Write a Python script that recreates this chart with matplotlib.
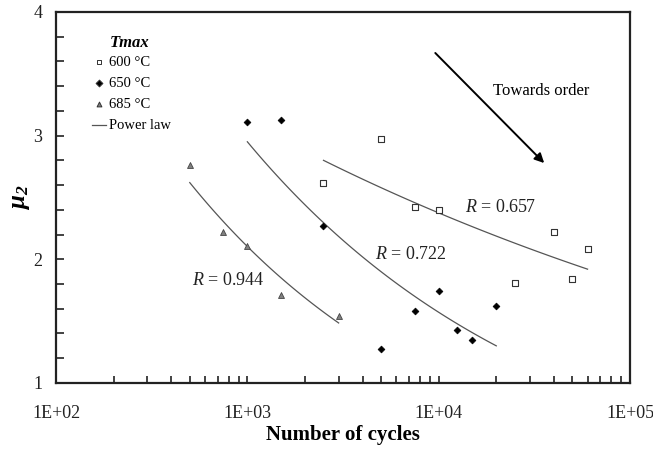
import numpy as np
import matplotlib
matplotlib.use('Agg')
import matplotlib.pyplot as plt
from matplotlib.ticker import LogLocator, FixedLocator, NullFormatter

plt.rcParams['font.family'] = ['Liberation Serif', 'DejaVu Serif']
plt.rcParams['mathtext.fontset'] = 'custom'
plt.rcParams['mathtext.rm'] = 'Liberation Serif'
plt.rcParams['mathtext.it'] = 'Liberation Serif:italic'
plt.rcParams['mathtext.bf'] = 'Liberation Serif:bold:italic'

# 600 °C
cycles_600 = [2500, 5000, 7500, 10000, 25000, 40000, 50000, 60000]
mu2_600 = [2.62, 2.97, 2.42, 2.40, 1.81, 2.22, 1.84, 2.08]
# 650 °C
cycles_650 = [1000, 1500, 2500, 5000, 7500, 10000, 12500, 15000, 20000]
mu2_650 = [3.11, 3.13, 2.27, 1.275, 1.58, 1.74, 1.43, 1.35, 1.62]
# 685 °C
cycles_685 = [500, 750, 1000, 1500, 3000]
mu2_685 = [2.76, 2.22, 2.11, 1.71, 1.54]

# power-law trendlines: end points (x, mu2)
fit_600 = ([2500, 60000], [2.80, 1.92])
fit_650 = ([1000, 20000], [2.95, 1.30])
fit_685 = ([500, 3000], [2.62, 1.485])

r_labels = ['$R$ = 0.657', '$R$ = 0.722', '$R$ = 0.944']


def power_curve(xs, ys, n=60):
    # straight line in log-log space between the two read-off end points
    lx = np.log10(xs)
    ly = np.log10(ys)
    t = np.linspace(lx[0], lx[1], n)
    return 10 ** t, 10 ** np.interp(t, lx, ly)


fig = plt.figure(figsize=(6.53, 4.5), dpi=100)
ax = fig.add_axes([0.0858, 0.149, 0.879, 0.8245])

for fx, fy in (fit_600, fit_650, fit_685):
    cx, cy = power_curve(fx, fy)
    ax.plot(cx, cy, color='#555555', linewidth=0.9, zorder=2)

ax.scatter(cycles_600, mu2_600, marker='s', s=14, facecolor='white',
           edgecolor='#333333', linewidth=0.8, zorder=3)
ax.scatter(cycles_650, mu2_650, marker='D', s=12, facecolor='black',
           edgecolor='black', linewidth=0.5, zorder=3)
ax.scatter(cycles_685, mu2_685, marker='^', s=18, facecolor='#808080',
           edgecolor='#444444', linewidth=0.6, zorder=3)

ax.set_xscale('log')
ax.set_xlim(1e2, 1e5)
ax.set_ylim(1, 4)

ax.xaxis.set_minor_locator(LogLocator(base=10, subs=np.arange(2, 10), numticks=10))
ax.xaxis.set_minor_formatter(NullFormatter())
ax.set_xticks([1e2, 1e3, 1e4, 1e5])
ax.set_xticklabels(['1E+02', '1E+03', '1E+04', '1E+05'])
ax.yaxis.set_major_locator(FixedLocator([1, 2, 3, 4]))
ax.yaxis.set_minor_locator(FixedLocator(np.arange(1.2, 4.0, 0.2)))

ax.tick_params(which='both', direction='in', labelsize=13, colors='#222222')
ax.tick_params(axis='x', which='both', length=5, width=1.2, pad=16)
ax.tick_params(axis='y', which='both', length=6, width=1.2, pad=10)
for sp in ax.spines.values():
    sp.set_linewidth(1.6)
    sp.set_color('#222222')

ax.set_xlabel('Number of cycles', fontsize=15, fontweight='bold', labelpad=2)
ax.set_ylabel(r'$\mathbf{\mu_2}$', fontsize=18, labelpad=1)

# legend, drawn by hand to match the layout
ax.text(0.093, 0.917, 'Tmax', transform=ax.transAxes, fontsize=12,
        fontweight='bold', style='italic', va='center')
leg_rows = [('s', 'white', '600 °C'), ('D', 'black', '650 °C'),
            ('^', '#808080', '685 °C')]
for i, (mk, fc, lab) in enumerate(leg_rows):
    yy = 0.865 - i * 0.057
    ax.scatter([0.074], [yy], transform=ax.transAxes, marker=mk, s=12,
               facecolor=fc, edgecolor='#333333', linewidth=0.7, clip_on=False)
    ax.text(0.093, yy, lab, transform=ax.transAxes, fontsize=10.5, va='center')
yy = 0.865 - 3 * 0.057
ax.plot([0.063, 0.087], [yy, yy], transform=ax.transAxes, color='#555555',
        linewidth=0.9)
ax.text(0.093, yy, 'Power law', transform=ax.transAxes, fontsize=10.5, va='center')

# R labels
ax.text(13700, 2.42, r_labels[0], fontsize=13, color='#222222', va='center')
ax.text(4650, 2.035, r_labels[1], fontsize=13, color='#222222', va='center')
ax.text(514, 1.825, r_labels[2], fontsize=13, color='#222222', va='center')

ax.text(34300, 3.36, 'Towards order', fontsize=12, ha='center', va='center')
ax.annotate('', xy=(35600, 2.778), xytext=(9600, 3.668),
            arrowprops=dict(arrowstyle='-|>', color='black', linewidth=1.4,
                            mutation_scale=14, shrinkA=0, shrinkB=0))

fig.savefig('out.png', dpi=100)
